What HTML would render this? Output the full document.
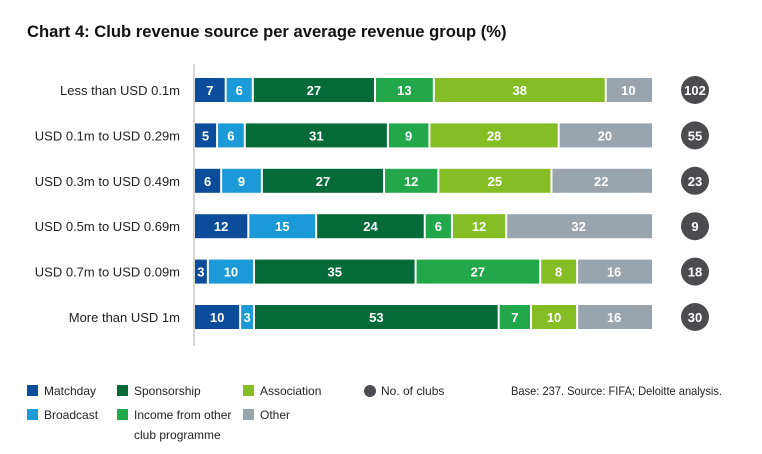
<!DOCTYPE html>
<html><head><meta charset="utf-8"><style>
body{margin:0;background:#fff;font-family:"Liberation Sans",sans-serif;}
#wrap{position:relative;width:762px;height:454px;overflow:hidden;}
.t{position:absolute;white-space:nowrap;}
</style></head><body>
<div id="wrap">
<div class="t" style="left:27px;top:22px;font-size:16.6px;font-weight:bold;color:#111;">Chart 4: Club revenue source per average revenue group (%)</div>
<svg id="chart" width="762" height="454" style="position:absolute;left:0;top:0"></svg>
</div>
<script>
const categories=["Less than USD 0.1m","USD 0.1m to USD 0.29m","USD 0.3m to USD 0.49m","USD 0.5m to USD 0.69m","USD 0.7m to USD 0.09m","More than USD 1m"];
const matchday=[7,5,6,12,3,10];
const broadcast=[6,6,9,15,10,3];
const sponsorship=[27,31,27,24,35,53];
const incomeOther=[13,9,12,6,27,7];
const association=[38,28,25,12,8,10];
const other=[10,20,22,32,16,16];
const clubs=[102,55,23,9,18,30];
const seriesNames=["Matchday","Broadcast","Sponsorship","Income from other club programme","Association","Other"];
const colors=["#0b4d9a","#1a9bd7","#046a38","#22a84a","#84bd24","#98a4ae"];
const series=[matchday,broadcast,sponsorship,incomeOther,association,other];
const NS="http://www.w3.org/2000/svg";
const svg=document.getElementById('chart');
const x0=195,x1=652,y0=90,step=45.4,bh=24;
function yPos(i){return y0+i*step;}
function mk(t,a){const e=document.createElementNS(NS,t);for(const k in a)e.setAttribute(k,a[k]);svg.appendChild(e);return e;}
const ax=mk('line',{x1:194,x2:194,y1:64,y2:346,stroke:'#c8c8c8','stroke-width':1.5});


categories.forEach((c,i)=>{
  const yc=yPos(i);
  const lb=mk('text',{x:180,y:yc+5,'text-anchor':'end','font-size':13,fill:'#222'});
  lb.textContent=c;
  
  
  let tot=0;series.forEach(s=>tot+=s[i]);
  let acc=0;
  series.forEach((s,j)=>{
    const v=s[i];
    const xa=x0+(x1-x0)*acc/tot, xb=x0+(x1-x0)*(acc+v)/tot;
    acc+=v;
    const r=mk('rect',{x:xa,y:yc-bh/2,width:Math.max(0,xb-xa-(j<5?2:0)),height:bh,fill:colors[j]});
    
    
    const tx=mk('text',{x:(xa+xb-2)/2,y:yc+5,'text-anchor':'middle','font-size':13,'font-weight':'bold',fill:'#fff'});
    tx.textContent=v;
    
    
  });
  const ci=mk('circle',{cx:695,cy:yc,r:14,fill:'#4b4b50'});
  
  
  const ct=mk('text',{x:695,y:yc+5,'text-anchor':'middle','font-size':13,'font-weight':'bold',fill:'#fff'});
  ct.textContent=clubs[i];
  
  
});
// legend
const leg=[[0,27,385,"Matchday"],[2,117,385,"Sponsorship"],[4,243,385,"Association"],[1,27,409,"Broadcast"],[3,117,409,"Income from other"],[5,243,409,"Other"]];
leg.forEach(l=>{
  const r=mk('rect',{x:l[1],y:l[2],width:11,height:11,fill:colors[l[0]]});
  
  
  const t=mk('text',{x:l[1]+17,y:l[2]+10,'font-size':12,fill:'#222'});
  t.textContent=l[3];
  
  
});
const t2=mk('text',{x:134,y:439,'font-size':12,fill:'#222'});t2.textContent="club programme";


const lc=mk('circle',{cx:370,cy:391,r:6,fill:'#4b4b50'});


const lt=mk('text',{x:381,y:395,'font-size':12,fill:'#222'});lt.textContent="No. of clubs";


const src=mk('text',{x:511,y:395,'font-size':12,fill:'#222',textLength:211,lengthAdjust:'spacingAndGlyphs'});src.textContent="Base: 237. Source: FIFA; Deloitte analysis.";


</script>
</body></html>
